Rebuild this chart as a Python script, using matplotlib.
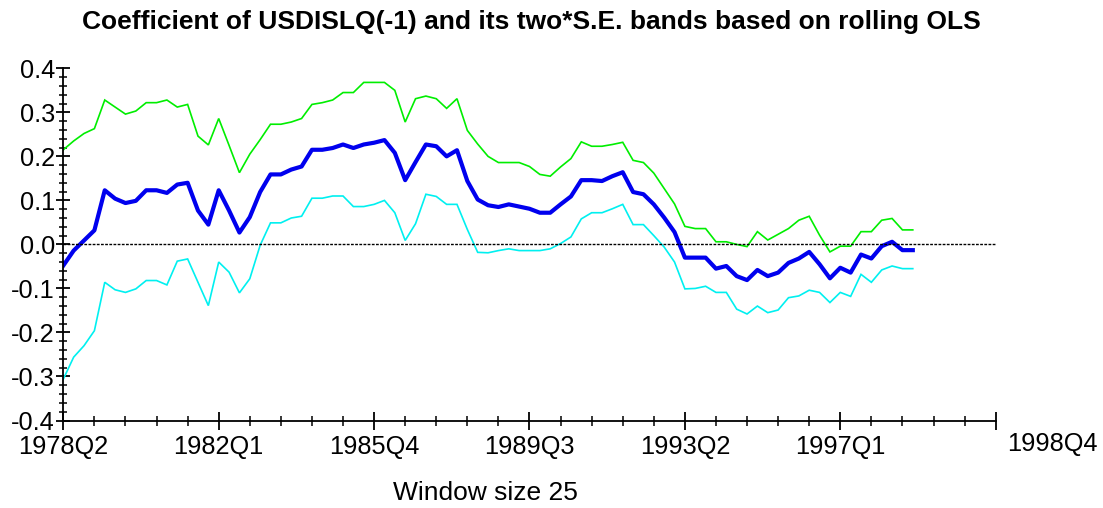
import numpy as np
import matplotlib
matplotlib.use("Agg")
import matplotlib.pyplot as plt
from matplotlib.ticker import MultipleLocator, FixedLocator

# ---- data (quarterly, 1978Q2 .. 1998Q4) ----
coef = [-0.048, -0.014, 0.009, 0.032, 0.123, 0.104, 0.094, 0.099, 0.123, 0.123,
        0.117, 0.136, 0.140, 0.077, 0.045, 0.123, 0.077, 0.027, 0.062, 0.119,
        0.159, 0.159, 0.170, 0.177, 0.215, 0.215, 0.219, 0.227, 0.219, 0.227,
        0.231, 0.237, 0.208, 0.146, 0.187, 0.227, 0.223, 0.200, 0.214, 0.144,
        0.102, 0.089, 0.085, 0.091, 0.086, 0.081, 0.072, 0.072, 0.091, 0.109,
        0.146, 0.146, 0.144, 0.155, 0.164, 0.119, 0.114, 0.091, 0.061, 0.028,
        -0.030, -0.030, -0.030, -0.055, -0.049, -0.072, -0.081, -0.058, -0.072, -0.064,
        -0.042, -0.032, -0.017, -0.045, -0.077, -0.053, -0.064, -0.023, -0.032, -0.004,
        0.006, -0.013, -0.013]

upper = [0.215, 0.235, 0.252, 0.263, 0.328, 0.312, 0.296, 0.303, 0.322, 0.322,
         0.328, 0.312, 0.318, 0.246, 0.226, 0.286, 0.225, 0.163, 0.205, 0.238,
         0.273, 0.273, 0.278, 0.286, 0.318, 0.322, 0.328, 0.345, 0.345, 0.368,
         0.368, 0.368, 0.350, 0.278, 0.331, 0.337, 0.331, 0.309, 0.331, 0.259,
         0.228, 0.200, 0.186, 0.186, 0.186, 0.177, 0.159, 0.155, 0.176, 0.195,
         0.233, 0.223, 0.223, 0.227, 0.232, 0.191, 0.186, 0.162, 0.127, 0.092,
         0.041, 0.036, 0.036, 0.006, 0.006, 0.000, -0.005, 0.029, 0.010, 0.023,
         0.036, 0.055, 0.064, 0.021, -0.017, -0.004, -0.004, 0.029, 0.029, 0.055,
         0.059, 0.033, 0.033]

lower = [-0.306, -0.256, -0.230, -0.196, -0.086, -0.103, -0.109, -0.101, -0.082, -0.082,
         -0.092, -0.038, -0.033, -0.086, -0.139, -0.040, -0.063, -0.110, -0.078, -0.002,
         0.049, 0.049, 0.060, 0.064, 0.105, 0.105, 0.110, 0.110, 0.086, 0.086,
         0.091, 0.100, 0.072, 0.009, 0.047, 0.114, 0.109, 0.091, 0.091, 0.034,
         -0.018, -0.019, -0.014, -0.010, -0.014, -0.014, -0.014, -0.010, 0.002, 0.017,
         0.058, 0.072, 0.072, 0.081, 0.091, 0.045, 0.045, 0.020, -0.006, -0.040,
         -0.101, -0.100, -0.095, -0.109, -0.109, -0.147, -0.158, -0.140, -0.155, -0.149,
         -0.121, -0.117, -0.104, -0.109, -0.132, -0.109, -0.118, -0.068, -0.086, -0.058,
         -0.049, -0.055, -0.055]

tick_labels = ["1978Q2", "1982Q1", "1985Q4", "1989Q3", "1993Q2", "1997Q1"]
end_label = "1998Q4"
ytick_labels = ["-0.4", "-0.3", "-0.2", "-0.1", "0.0", "0.1", "0.2", "0.3", "0.4"]
title = "Coefficient of USDISLQ(-1) and its two*S.E. bands based on rolling OLS"
xlabel = "Window size 25"

plt.rcParams['font.family'] = ['Liberation Sans', 'DejaVu Sans']

x = np.arange(len(coef))
fig = plt.figure(figsize=(11.03, 5.08), dpi=100)
ax = fig.add_axes([0.0574, 0.1722, 0.8453, 0.6933])

ax.plot(x, upper, color='#00ee00', lw=1.2, solid_joinstyle='miter')
ax.plot(x, lower, color='#00f0f0', lw=1.2, solid_joinstyle='miter')
ax.plot(x, coef, color='#0000ee', lw=3.0, solid_joinstyle='round')
ax.axhline(0, color='black', lw=1.0, ls=(0, (2, 1)))

ax.set_xlim(0, 90)
ax.set_ylim(-0.4, 0.4)
for s in ['top', 'right']:
    ax.spines[s].set_visible(False)
for s in ['left', 'bottom']:
    ax.spines[s].set_linewidth(1.3)

major_x = np.arange(0, 91, 15)
ax.xaxis.set_major_locator(FixedLocator(major_x))
ax.set_xticklabels(tick_labels + [""])
ax.xaxis.set_minor_locator(MultipleLocator(3))
ax.yaxis.set_major_locator(FixedLocator(np.linspace(-0.4, 0.4, 9)))
ax.set_yticklabels(ytick_labels)
ax.yaxis.set_minor_locator(MultipleLocator(0.02))

ax.tick_params(axis='x', which='major', direction='inout', length=13, width=1.3,
               labelsize=18.3, pad=4)
ax.tick_params(axis='x', which='minor', direction='inout', length=7, width=1.1)
ax.tick_params(axis='y', which='major', direction='inout', length=10, width=1.3,
               labelsize=18.3, pad=1)
ax.tick_params(axis='y', which='minor', direction='inout', length=6, width=1.1)

ax.annotate(end_label, xy=(90, 0), xycoords=('data', 'axes fraction'),
            xytext=(8, -8.5), textcoords='offset points', fontsize=18.3,
            ha='left', va='top')

fig.text(0.4814, 0.943, title, fontsize=19, fontweight='bold', ha='center', va='baseline')
fig.text(0.4397, 0.0157, xlabel, fontsize=19, ha='center', va='baseline')

fig.savefig('out.png', dpi=100)
